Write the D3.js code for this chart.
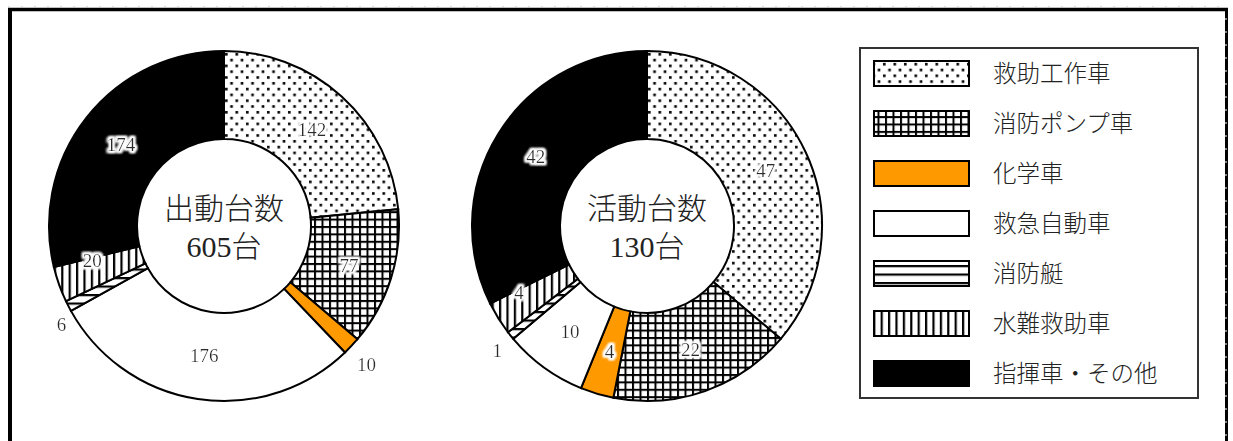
<!DOCTYPE html>
<html>
<head>
<meta charset="utf-8">
<script src="https://cdn.jsdelivr.net/npm/d3@7/dist/d3.min.js"></script>
<style>
  html, body { margin: 0; padding: 0; background: #fff; }
  svg { display: block; }
</style>
</head>
<body>
<svg id="chart" width="1233" height="441"></svg>
<script>
// Vehicle categories (legend order = slice order, clockwise from 12 o'clock)
const categories = ["救助工作車", "消防ポンプ車", "化学車", "救急自動車", "消防艇", "水難救助車", "指揮車・その他"];
// Vehicles dispatched
const dispatchCounts = [142, 77, 10, 176, 6, 20, 174];
// Vehicles that were active on site
const activeCounts = [47, 22, 4, 10, 1, 4, 42];
// Centre captions
const centerTitles = ["出動台数", "活動台数"];
const unitLabel = "台";

const svg = d3.select("#chart");
const defs = svg.append("defs");

// ---- fill patterns ----
const pDots = defs.append("pattern").attr("id", "p-dots")
  .attr("patternUnits", "userSpaceOnUse").attr("width", 10.5).attr("height", 11.6);
pDots.append("rect").attr("width", 10.5).attr("height", 11.6).attr("fill", "#fff");
pDots.append("rect").attr("x", 1).attr("y", 1).attr("width", 2.6).attr("height", 2.6).attr("fill", "#000");
pDots.append("rect").attr("x", 6.25).attr("y", 6.8).attr("width", 2.6).attr("height", 2.6).attr("fill", "#000");

const pGrid = defs.append("pattern").attr("id", "p-grid")
  .attr("patternUnits", "userSpaceOnUse").attr("width", 7.5).attr("height", 7.4);
pGrid.append("rect").attr("width", 7.5).attr("height", 7.4).attr("fill", "#fff");
pGrid.append("rect").attr("x", 0).attr("y", 0).attr("width", 2).attr("height", 7.4).attr("fill", "#000");
pGrid.append("rect").attr("x", 0).attr("y", 0).attr("width", 7.5).attr("height", 2).attr("fill", "#000");

const pHoriz = defs.append("pattern").attr("id", "p-horiz")
  .attr("patternUnits", "userSpaceOnUse").attr("width", 8).attr("height", 8.5);
pHoriz.append("rect").attr("width", 8).attr("height", 8.5).attr("fill", "#fff");
pHoriz.append("rect").attr("x", 0).attr("y", 0).attr("width", 8).attr("height", 2.2).attr("fill", "#000");

const pVert = defs.append("pattern").attr("id", "p-vert")
  .attr("patternUnits", "userSpaceOnUse").attr("width", 7.4).attr("height", 8);
pVert.append("rect").attr("width", 7.4).attr("height", 8).attr("fill", "#fff");
pVert.append("rect").attr("x", 0).attr("y", 0).attr("width", 2.2).attr("height", 8).attr("fill", "#000");

// white halo behind the value labels
const halo = defs.append("filter").attr("id", "halo")
  .attr("x", "-30%").attr("y", "-40%").attr("width", "160%").attr("height", "180%");
halo.append("feMorphology").attr("in", "SourceAlpha").attr("operator", "dilate").attr("radius", 1.6).attr("result", "thick");
halo.append("feGaussianBlur").attr("in", "thick").attr("stdDeviation", 1.3).attr("result", "soft");
halo.append("feFlood").attr("flood-color", "#fff");
halo.append("feComposite").attr("in2", "soft").attr("operator", "in").attr("result", "glow");
const hm = halo.append("feMerge");
hm.append("feMergeNode").attr("in", "glow");
hm.append("feMergeNode").attr("in", "glow");
hm.append("feMergeNode").attr("in", "SourceGraphic");

const fill = d3.scaleOrdinal(categories,
  ["url(#p-dots)", "url(#p-grid)", "#ff9900", "#fff", "url(#p-horiz)", "url(#p-vert)", "#000"]);

// ---- outer frame ----
svg.append("line").attr("x1", 8).attr("x2", 1228).attr("y1", 9.5).attr("y2", 9.5)
  .attr("stroke", "#000").attr("stroke-width", 3.5);
svg.append("line").attr("x1", 8).attr("x2", 1228).attr("y1", 7).attr("y2", 7)
  .attr("stroke", "#bbb").attr("stroke-width", 1).attr("stroke-dasharray", "2,11");
svg.append("line").attr("x1", 10).attr("x2", 10).attr("y1", 8).attr("y2", 441)
  .attr("stroke", "#000").attr("stroke-width", 4);
svg.append("line").attr("x1", 1226.5).attr("x2", 1226.5).attr("y1", 8).attr("y2", 441)
  .attr("stroke", "#000").attr("stroke-width", 3);
svg.append("line").attr("x1", 1226).attr("x2", 1226).attr("y1", 18).attr("y2", 441)
  .attr("stroke", "#fff").attr("stroke-width", 1).attr("stroke-dasharray", "2,11");

// ---- donuts ----
const outerR = 175, innerR = 87;
const pie = d3.pie().sort(null).value(d => d.value);
const arc = d3.arc().innerRadius(innerR).outerRadius(outerR);
const deg = Math.PI / 180;

// label placement per slice: radius and angular nudge (degrees) from slice middle
const leftLabelPlace = [
  { r: 131, nudge: 0 }, { r: 131, nudge: 0 }, { r: 199, nudge: 1 }, { r: 131, nudge: 0 },
  { r: 190, nudge: -4 }, { r: 136, nudge: 5 }, { r: 131, nudge: 0 }
];
const rightLabelPlace = [
  { r: 131, nudge: 0 }, { r: 131, nudge: 0 }, { r: 131, nudge: 0 }, { r: 131, nudge: 0 },
  { r: 195, nudge: -1 }, { r: 144, nudge: 4.5 }, { r: 131, nudge: 0 }
];

function drawDonut(cx, cy, values, title, place) {
  const data = categories.map((c, i) => ({ cat: c, value: values[i], place: place[i] }));
  const arcs = pie(data);
  const g = svg.append("g").attr("transform", `translate(${cx},${cy})`);

  g.selectAll("path.slice").data(arcs).join("path")
    .attr("class", "slice")
    .attr("d", arc)
    .attr("fill", d => fill(d.data.cat))
    .attr("stroke", "#000")
    .attr("stroke-width", 2)
    .attr("stroke-linejoin", "miter");

  g.selectAll("text.val").data(arcs).join("text")
    .attr("class", "val")
    .attr("x", d => {
      const a = (d.startAngle + d.endAngle) / 2 + d.data.place.nudge * deg;
      return d.data.place.r * Math.sin(a);
    })
    .attr("y", d => {
      const a = (d.startAngle + d.endAngle) / 2 + d.data.place.nudge * deg;
      return -d.data.place.r * Math.cos(a);
    })
    .attr("text-anchor", "middle")
    .attr("dominant-baseline", "central")
    .attr("font-family", "'Liberation Serif', 'DejaVu Serif', serif")
    .attr("font-size", 19)
    .attr("fill", "#2a2a2a")
    .attr("filter", "url(#halo)")
    .text(d => d.data.value);

  const total = d3.sum(values);
  const ct = g.append("text")
    .attr("text-anchor", "middle")
    .attr("font-family", "'Liberation Serif', 'Noto Sans CJK JP', serif")
    .attr("font-weight", 300)
    .attr("font-size", 30)
    .attr("fill", "#222");
  ct.append("tspan").attr("x", 0).attr("y", -7).text(title);
  ct.append("tspan").attr("x", 0).attr("y", 31).text(total + unitLabel);
}

drawDonut(224, 226, dispatchCounts, centerTitles[0], leftLabelPlace);
drawDonut(647, 226, activeCounts, centerTitles[1], rightLabelPlace);

// ---- legend ----
const legend = svg.append("g");
legend.append("rect").attr("x", 860).attr("y", 48).attr("width", 338).attr("height", 350)
  .attr("fill", "#fff").attr("stroke", "#333").attr("stroke-width", 2);

const rowY = d3.scalePoint().domain(categories).range([73.5, 373.5]);
const rows = legend.selectAll("g.row").data(categories).join("g").attr("class", "row")
  .attr("transform", d => `translate(0,${rowY(d)})`);
rows.append("rect")
  .attr("x", 874).attr("y", -12.5).attr("width", 95).attr("height", 25)
  .attr("fill", d => fill(d)).attr("stroke", "#000").attr("stroke-width", 2);
rows.append("text")
  .attr("x", 993).attr("y", 8.5)
  .attr("font-family", "'Noto Sans CJK JP', sans-serif")
  .attr("font-weight", 300)
  .attr("font-size", 23.5)
  .attr("fill", "#222")
  .text(d => d);
</script>
</body>
</html>
